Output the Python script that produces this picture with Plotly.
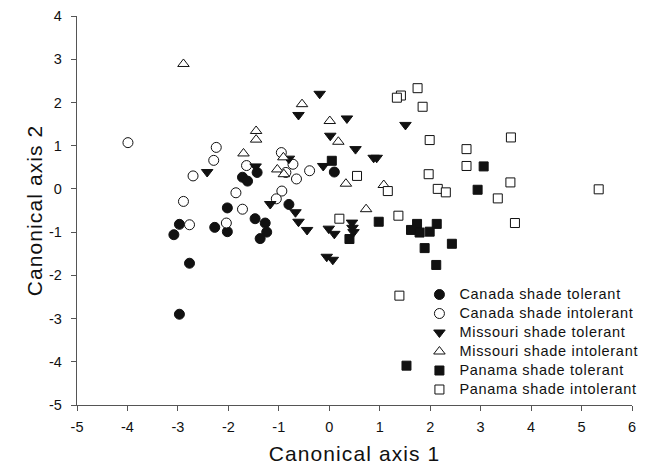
import plotly.graph_objects as go

# ---- data (canonical scores) ----
canada_tol_x = [-3.08, -2.97, -2.77, -2.97, -2.27, -2.02, -2.02, -1.72, -1.62, -1.43, -1.47, -1.27, -1.24, -1.37, -0.80, 0.10]
canada_tol_y = [-1.06, -0.82, -1.72, -2.90, -0.89, -0.44, -0.99, 0.27, 0.18, 0.38, -0.69, -0.79, -1.00, -1.15, -0.36, 0.39]

canada_int_x = [-3.99, -2.70, -2.89, -2.77, -2.24, -2.29, -1.85, -1.72, -2.04, -1.64, -0.95, -0.72, -0.86, -0.65, -0.39, -0.94, -1.05]
canada_int_y = [1.07, 0.30, -0.29, -0.83, 0.96, 0.66, -0.09, -0.47, -0.79, 0.54, 0.84, 0.57, 0.38, 0.23, 0.42, -0.05, -0.23]

missouri_tol_x = [-2.42, -1.46, -0.80, -1.17, -0.19, -0.61, 0.35, 0.02, 0.52, 0.88, 0.94, 1.51, -0.12,
                  -0.67, -0.61, -0.44, -0.01, 0.10, 0.45, 0.46, 0.48, -0.05, 0.07]
missouri_tol_y = [0.39, 0.52, 0.70, -0.35, 2.20, 1.71, 1.63, 1.23, 0.92, 0.72, 0.72, 1.48, 0.53,
                  -0.54, -0.76, -0.95, -0.92, -1.04, -0.78, -0.90, -1.00, -1.57, -1.64]

missouri_int_x = [-2.89, -1.45, -1.45, -1.70, -0.54, 0.01, 0.18, -0.91, -1.03, -0.90, 0.33, 1.08, 0.73]
missouri_int_y = [2.89, 1.34, 1.14, 0.82, 1.96, 1.57, 1.09, 0.73, 0.45, 0.34, 0.12, 0.09, -0.47]

panama_tol_x = [0.05, 0.98, 0.40, 1.74, 1.62, 1.79, 1.99, 2.13, 2.43, 1.89, 2.12, 3.06, 2.94, 1.53]
panama_tol_y = [0.65, -0.76, -1.16, -0.81, -0.95, -1.01, -0.99, -0.81, -1.27, -1.37, -1.76, 0.52, -0.02, -4.09]

panama_int_x = [1.75, 1.42, 1.34, 1.85, 1.99, 3.60, 2.72, 2.72, 1.97, 3.59, 2.15, 2.31, 3.34, 5.34, 3.68, 1.37, 1.16, 0.55, 0.20, 1.39]
panama_int_y = [2.33, 2.16, 2.11, 1.90, 1.13, 1.19, 0.92, 0.53, 0.34, 0.15, 0.00, -0.08, -0.22, -0.01, -0.79, -0.62, -0.05, 0.30, -0.69, -2.47]

group_names = ["Canada shade tolerant", "Canada shade intolerant",
               "Missouri shade tolerant", "Missouri shade intolerant",
               "Panama shade tolerant", "Panama shade intolerant"]

x_ticks = [-5, -4, -3, -2, -1, 0, 1, 2, 3, 4, 5, 6]
y_ticks = [-5, -4, -3, -2, -1, 0, 1, 2, 3, 4]
x_title = "Canonical axis 1"
y_title = "Canonical axis 2"

# ---- styling ----
FONT = "Liberation Sans, Arial, sans-serif"
INK = "#111111"
AXC = "#555555"

series = [
    (canada_tol_x, canada_tol_y, "circle", INK, 10),
    (canada_int_x, canada_int_y, "circle", "white", 10),
    (missouri_tol_x, missouri_tol_y, "triangle-down", INK, 10),
    (missouri_int_x, missouri_int_y, "triangle-up", "white", 10),
    (panama_tol_x, panama_tol_y, "square", INK, 9),
    (panama_int_x, panama_int_y, "square", "white", 9),
]

fig = go.Figure()
for name, (xs, ys, sym, fill, size) in zip(group_names, series):
    fig.add_trace(go.Scatter(
        x=xs, y=ys, mode="markers",
        name='<span style="font-size:14.5px;letter-spacing:0.7px">' + name + "</span>",
        marker=dict(symbol=sym, size=size, color=fill,
                    line=dict(color=INK, width=1)),
    ))

axis_common = dict(
    showgrid=False, zeroline=False, showline=True, automargin=False,
    linecolor=AXC, linewidth=1.3,
    ticks="outside", ticklen=5, tickwidth=1.2, tickcolor=AXC,
    tickfont=dict(family=FONT, size=14.5, color=INK),
)


def styled(t):
    return '<span style="letter-spacing:1.1px">' + t + "</span>"


fig.update_layout(
    width=645, height=467,
    margin=dict(l=77, r=13, t=16, b=62, autoexpand=False),
    paper_bgcolor="white", plot_bgcolor="white",
    font=dict(family=FONT, color=INK),
    xaxis=dict(range=[-5, 6], tickvals=x_ticks, ticktext=[str(v) for v in x_ticks],
               ticklabelstandoff=3, **axis_common,
               title=dict(text=styled(x_title), font=dict(family=FONT, size=21, color=INK), standoff=12)),
    yaxis=dict(range=[-5, 4], tickvals=y_ticks, ticktext=[str(v) for v in y_ticks],
               ticklabelstandoff=6, **axis_common,
               title=dict(text=styled(y_title), font=dict(family=FONT, size=21, color=INK), standoff=0)),
    legend=dict(x=0.617, xanchor="left", y=0.3213, yanchor="top",
                bgcolor="rgba(0,0,0,0)", borderwidth=0,
                font=dict(family=FONT, size=12, color=INK),
                tracegroupgap=0),
    showlegend=True,
)

fig.write_html("out.html")
